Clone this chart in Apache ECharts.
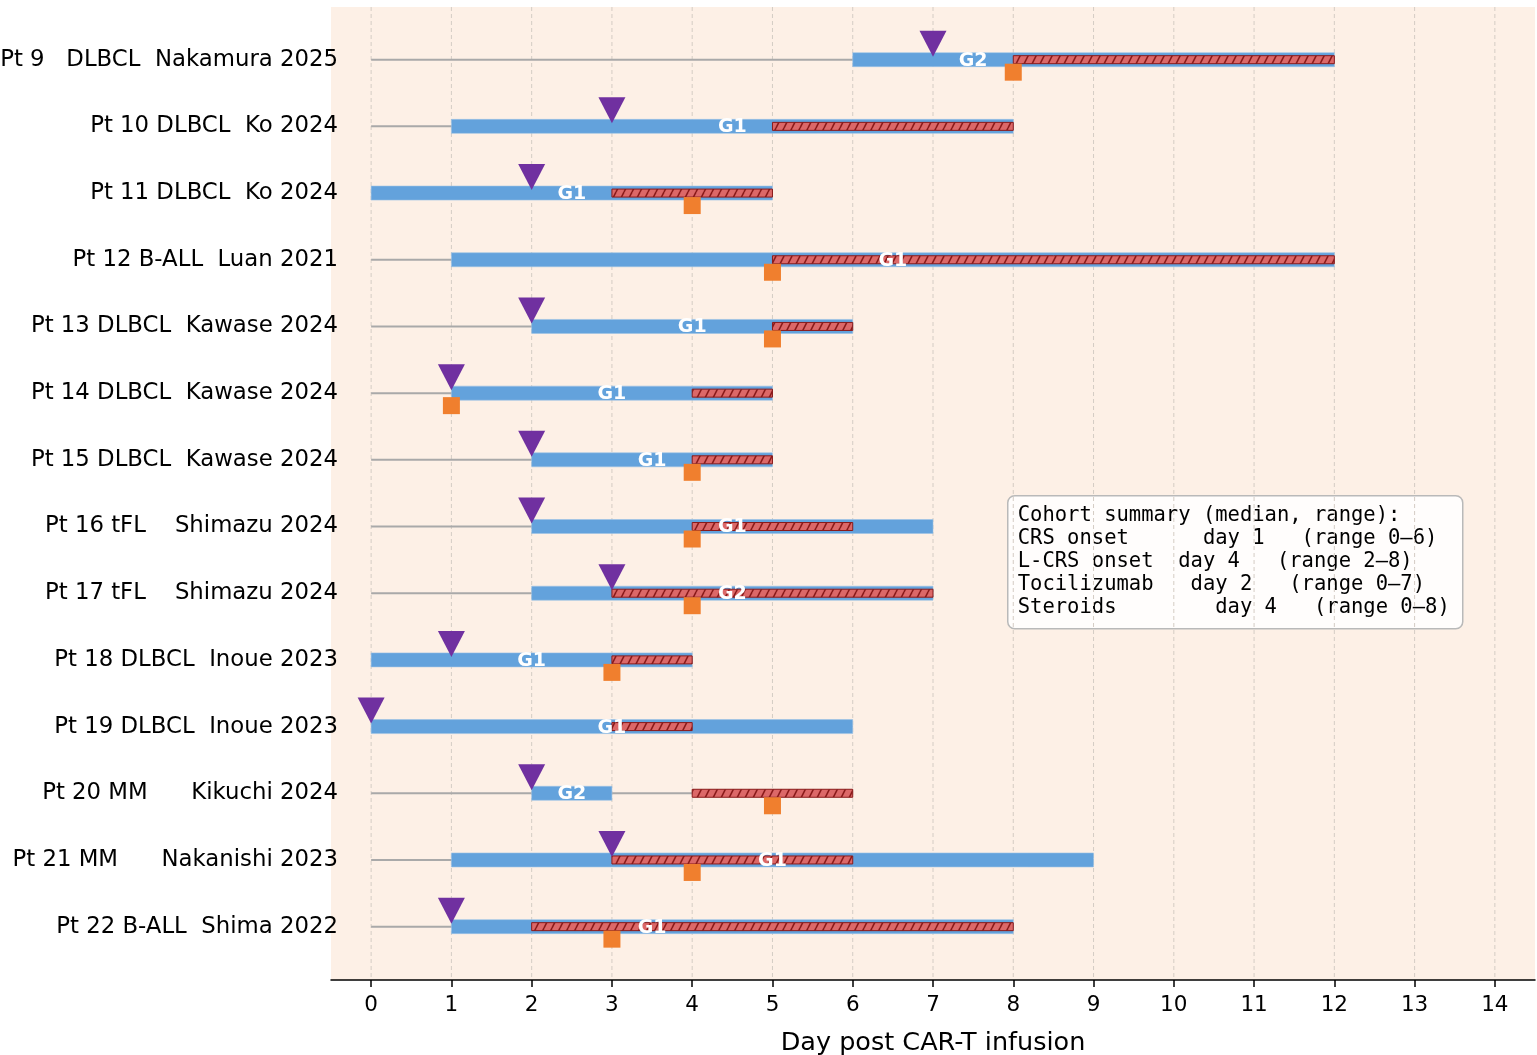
<!DOCTYPE html>
<html><head><meta charset="utf-8">
<script src="https://cdn.jsdelivr.net/npm/echarts@6/dist/echarts.min.js"></script>
<style>html,body{margin:0;padding:0;background:#fff}#c{width:1537px;height:1055px}</style>
</head><body><div id="c"></div>
<script>
// ---------------- data ----------------
const patientLabels = [
  'Pt 9   DLBCL  Nakamura 2025',
  'Pt 10 DLBCL  Ko 2024',
  'Pt 11 DLBCL  Ko 2024',
  'Pt 12 B-ALL  Luan 2021',
  'Pt 13 DLBCL  Kawase 2024',
  'Pt 14 DLBCL  Kawase 2024',
  'Pt 15 DLBCL  Kawase 2024',
  'Pt 16 tFL    Shimazu 2024',
  'Pt 17 tFL    Shimazu 2024',
  'Pt 18 DLBCL  Inoue 2023',
  'Pt 19 DLBCL  Inoue 2023',
  'Pt 20 MM      Kikuchi 2024',
  'Pt 21 MM      Nakanishi 2023',
  'Pt 22 B-ALL  Shima 2022'
];
const crsStart   = [6, 1, 0, 1, 2, 1, 2, 2, 2, 0, 0, 2, 1, 1];
const crsEnd     = [12, 8, 5, 12, 6, 5, 5, 7, 7, 4, 6, 3, 9, 8];
const lcrsStart  = [8, 5, 3, 5, 5, 4, 4, 4, 3, 3, 3, 4, 3, 2];
const lcrsEnd    = [12, 8, 5, 12, 6, 5, 5, 6, 7, 4, 4, 6, 6, 8];
const tociDay    = [7, 3, 2, null, 2, 1, 2, 2, 3, 1, 0, 2, 3, 1];
const steroidDay = [8, null, 4, 5, 5, 1, 4, 4, 4, 3, null, 5, 4, 3];
const crsGrade   = ['G2', 'G1', 'G1', 'G1', 'G1', 'G1', 'G1', 'G1', 'G2', 'G1', 'G1', 'G2', 'G1', 'G1'];
const gradeLabelDay = [7.5, 4.5, 2.5, 6.5, 4, 3, 3.5, 4.5, 4.5, 2, 3, 2.5, 5, 3.5];
const xTickDays = [0,1,2,3,4,5,6,7,8,9,10,11,12,13,14];
const summaryLines = [
  'Cohort summary (median, range):',
  'CRS onset      day 1   (range 0\u20136)',
  'L-CRS onset  day 4   (range 2\u20138)',
  'Tocilizumab   day 2   (range 0\u20137)',
  'Steroids        day 4   (range 0\u20138)'
];
const xAxisName = 'Day post CAR-T infusion';

// ---------------- build ----------------
const rows = patientLabels.map((_, i) => i);
const baselineData = rows.map(i => [i, 0, Math.max(crsEnd[i], lcrsEnd[i])]);
const crsData = rows.map(i => [i, crsStart[i], crsEnd[i]]);
const lcrsData = rows.map(i => [i, lcrsStart[i], lcrsEnd[i]]);
const gradeData = rows.map(i => [i, gradeLabelDay[i], crsGrade[i]]);
const tociData = rows.filter(i => tociDay[i] !== null).map(i => [tociDay[i], i]);
const steroidData = rows.filter(i => steroidDay[i] !== null).map(i => [steroidDay[i], i]);

function hatchPattern() {
  const c = document.createElement('canvas');
  c.width = 8; c.height = 16;
  const g = c.getContext('2d');
  g.fillStyle = '#dc6868';
  g.fillRect(0, 0, 8, 16);
  g.strokeStyle = '#8a1a1a';
  g.lineWidth = 1.6;
  for (const dx of [-8, 0, 8]) {
    g.beginPath(); g.moveTo(dx, 16); g.lineTo(dx + 8, 0); g.stroke();
  }
  return c;
}
const hatch = { image: hatchPattern(), repeat: 'repeat' };

function rectRender(h, style) {
  return function (params, api) {
    const row = api.value(0), s = api.value(1), e = api.value(2);
    const p0 = api.coord([s, row]), p1 = api.coord([e, row]);
    return {
      type: 'rect',
      shape: { x: p0[0], y: p0[1] - h / 2, width: p1[0] - p0[0], height: h },
      style: style
    };
  };
}

const chart = echarts.init(document.getElementById('c'), null, { renderer: 'canvas' });
const FONT = '"DejaVu Sans", "Liberation Sans", sans-serif';

chart.setOption({
  animation: false,
  backgroundColor: '#ffffff',
  grid: { left: 331, right: 2, top: 7, bottom: 75, show: true, backgroundColor: '#fdf0e6', borderWidth: 0,
          containLabel: false, outerBoundsMode: 'none' },
  xAxis: {
    type: 'value', min: -0.5, max: 14.5,
    name: xAxisName, nameLocation: 'middle', nameGap: 50,
    nameTextStyle: { fontSize: 25.5, color: '#000', fontFamily: FONT },
    axisLine: { show: true, onZero: false, lineStyle: { color: '#000', width: 1.5 } },
    axisTick: { show: true, length: 7, lineStyle: { color: '#000', width: 1.5 }, customValues: xTickDays },
    axisLabel: { fontSize: 21.5, color: '#000', fontFamily: FONT, margin: 14, customValues: xTickDays, formatter: v => String(v) },
    splitLine: { show: false }
  },
  yAxis: {
    type: 'value', inverse: true, min: -0.79, max: 13.8,
    axisLine: { show: false }, axisTick: { show: false }, splitLine: { show: false },
    axisLabel: {
      customValues: rows, fontSize: 22.8, color: '#000', fontFamily: FONT, margin: -7,
      formatter: v => patientLabels[Math.round(v)] || ''
    }
  },
  series: [
    {
      type: 'custom', z: 1, silent: true,
      data: xTickDays.map(d => [d]),
      encode: { x: 0 },
      renderItem: function (params, api) {
        const cs = params.coordSys;
        const x = api.coord([api.value(0), 0])[0];
        return {
          type: 'line',
          shape: { x1: x, y1: cs.y, x2: x, y2: cs.y + cs.height },
          style: { stroke: '#d4ccc4', lineWidth: 1, lineDash: [4, 3] }
        };
      }
    },
    {
      type: 'custom', z: 2, silent: true, data: baselineData, encode: { x: [1, 2], y: 0 },
      renderItem: function (params, api) {
        const row = api.value(0);
        const p0 = api.coord([api.value(1), row]), p1 = api.coord([api.value(2), row]);
        return { type: 'line', shape: { x1: p0[0], y1: p0[1], x2: p1[0], y2: p1[1] },
                 style: { stroke: '#a9a9a9', lineWidth: 2 } };
      }
    },
    {
      type: 'custom', z: 3, silent: true, data: crsData, encode: { x: [1, 2], y: 0 },
      renderItem: rectRender(14, { fill: '#63a2dc', stroke: '#9cc3e6', lineWidth: 0.6 })
    },
    {
      type: 'custom', z: 4, silent: true, data: lcrsData, encode: { x: [1, 2], y: 0 },
      renderItem: rectRender(8, { fill: hatch, stroke: '#8a1a1a', lineWidth: 1 })
    },
    {
      type: 'custom', z: 5, silent: true, data: gradeData, encode: { x: 1, y: 0 },
      renderItem: function (params, api) {
        const p = api.coord([api.value(1), api.value(0)]);
        return {
          type: 'text', x: p[0], y: p[1] + 1,
          style: { text: crsGrade[params.dataIndex], fill: '#ffffff', fontSize: 19, fontWeight: 'bold',
                   fontFamily: FONT, align: 'center', verticalAlign: 'middle' }
        };
      }
    },
    {
      type: 'scatter', z: 6, silent: true, data: tociData,
      symbol: 'path://M0,0L2,0L1,2Z', symbolKeepAspect: false,
      symbolSize: [27, 26], symbolOffset: [0, -16],
      itemStyle: { color: '#7030a0', opacity: 1 }
    },
    {
      type: 'scatter', z: 7, silent: true, data: steroidData,
      symbol: 'rect', symbolSize: [17, 17], symbolOffset: [0, 12.5],
      itemStyle: { color: '#f07f2e', opacity: 1 }
    }
  ],
  graphic: [{
    type: 'group', left: 1007, top: 495, z: 100,
    children: [
      { type: 'rect', shape: { x: 0, y: 0, width: 455, height: 133, r: 7 },
        style: { fill: 'rgba(255,255,255,0.85)', stroke: '#b9b9b9', lineWidth: 1.5 } },
      { type: 'text', x: 10, y: 8.5,
        style: { text: summaryLines.join('\n'), fontSize: 20.5, fontFamily: '"DejaVu Sans Mono", monospace',
                 lineHeight: 23, fill: '#000' } }
    ]
  }]
});
</script></body></html>
